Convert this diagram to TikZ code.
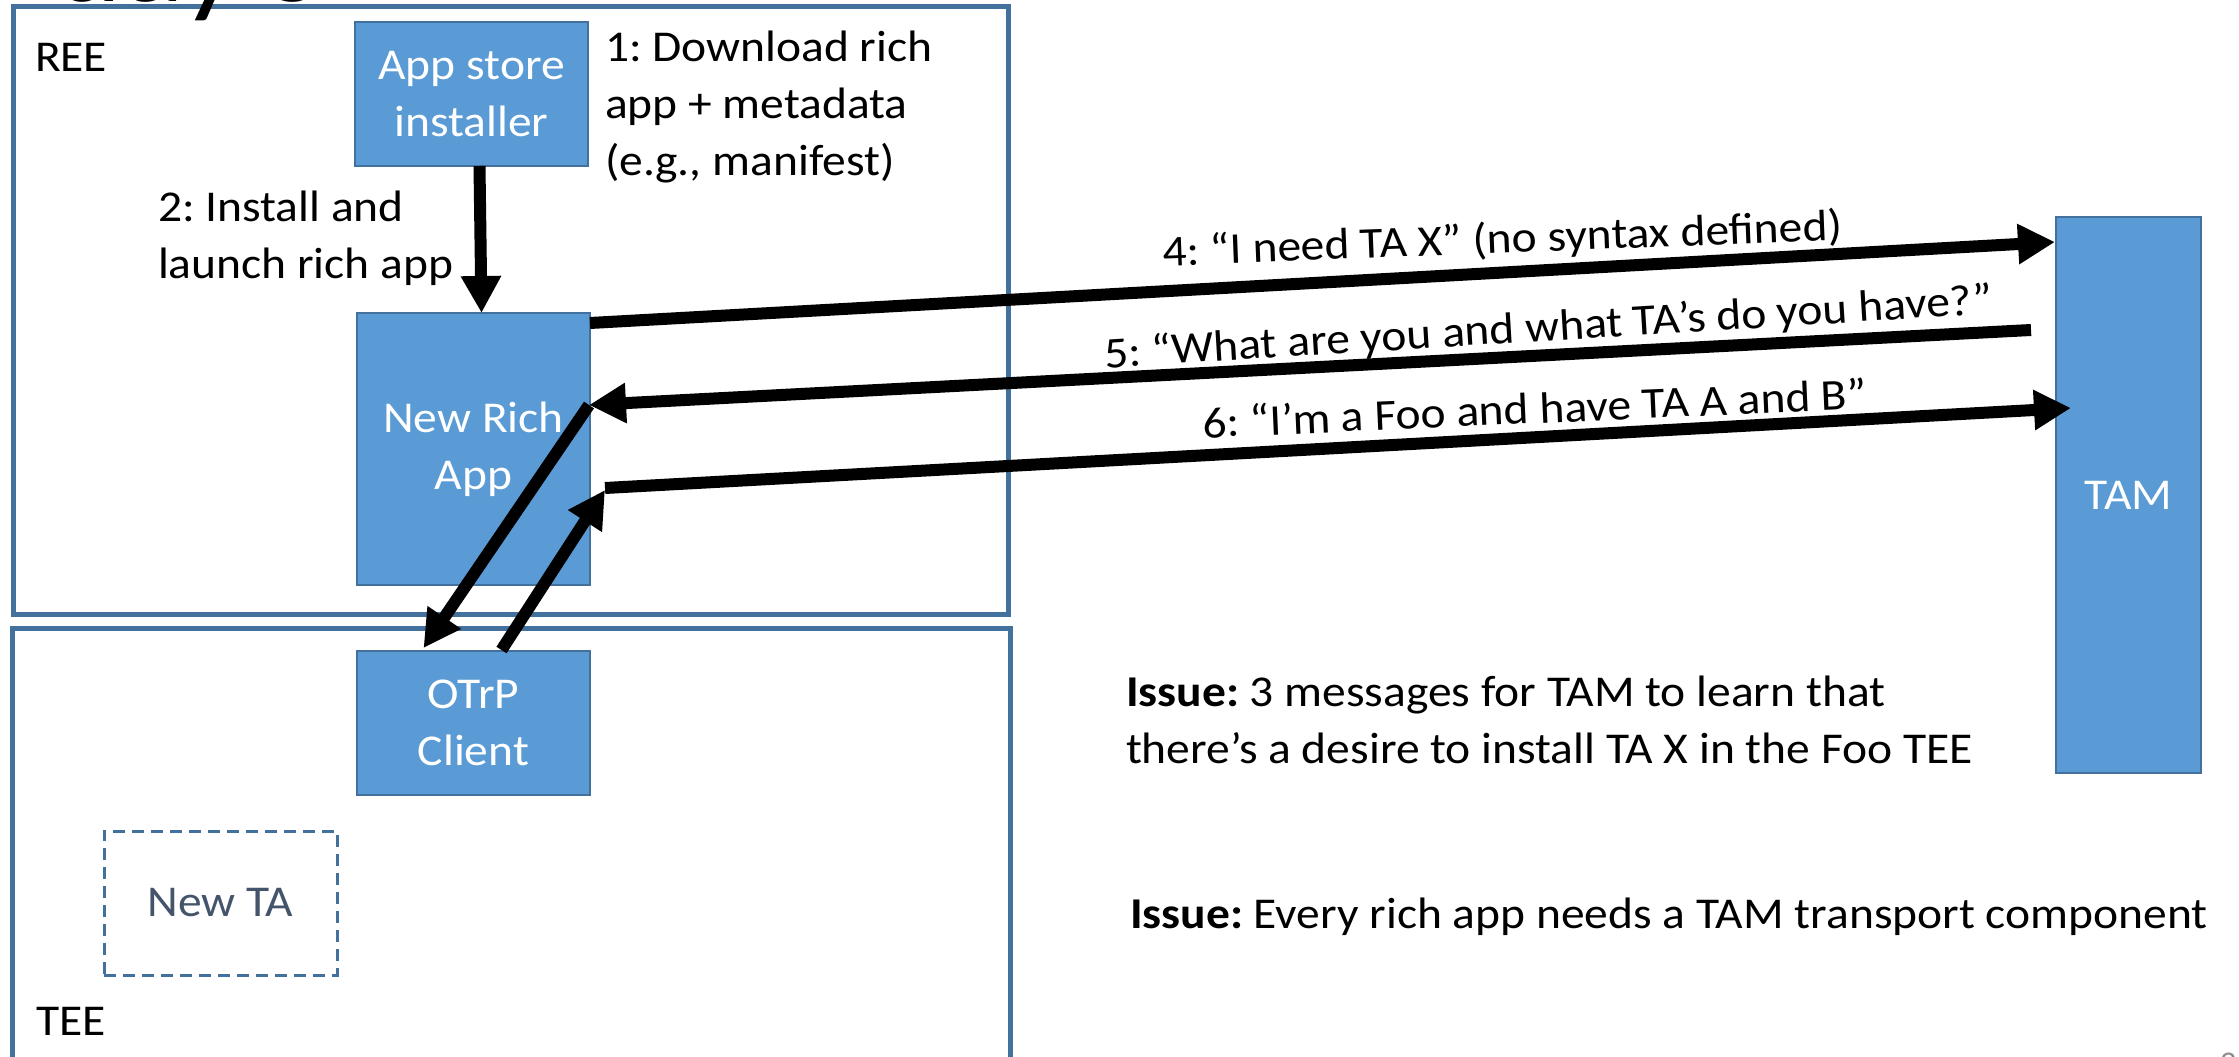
\documentclass[tikz,border=0pt]{standalone}
\usepackage{fontspec}
\setmainfont{Carlito}[FakeStretch=1.08]
\usetikzlibrary{arrows.meta,calc}
\definecolor{boxfill}{HTML}{5B9BD5}
\definecolor{boxline}{HTML}{41719C}
\definecolor{tatext}{HTML}{44546A}
\definecolor{pagenum}{HTML}{8C8C8C}
\frenchspacing
\begin{document}
\begin{tikzpicture}[x=1pt,y=-1pt,
  every node/.style={font=\fontsize{44}{57}\selectfont, inner sep=0pt, outer sep=0pt},
  zone/.style={draw=boxline, line width=5pt},
  comp/.style={draw=boxline, line width=2.5pt, fill=boxfill, text=white,
    align=center, minimum width=233pt},
  ghost/.style={draw=boxline, line width=3pt, dash pattern=on 12pt off 7pt,
    text=tatext, minimum width=233pt, minimum height=144pt},
  msg/.style={line width=12pt, -{Triangle[length=37pt,width=38pt]}},
  note/.style={align=left, anchor=base west},
]
\useasboundingbox (0,0) rectangle (2239,1057);

% execution environments
\node[zone, minimum width=995pt, minimum height=607pt] (ree) at (510.5,310.5) {};
\node[zone, minimum width=998pt, minimum height=480pt] (tee) at (511,868) {};
\node[anchor=base west] (reelbl) at (35,71) {REE};
\node[anchor=base west] (teelbl) at (36,1035) {TEE};

% slide title, sitting above the top edge
\begin{scope}
  \clip (72,-60) rectangle (420,40);
  \node[anchor=base west, font=\fontsize{120}{140}\selectfont] (title) at (-66,2) {Today’s};
\end{scope}

% components
\node[comp, minimum height=144pt] (inst) at (471.5,94) {App store\\installer};
\node[comp, minimum height=272pt] (rich) at (473.5,449) {New Rich\\App};
\node[comp, minimum height=144pt] (otrp) at (473.5,723) {OTrP\\Client};
\node[ghost] (newta) at (220.5,903) {New TA};
\node[comp, minimum width=145pt, minimum height=556pt] (tam) at (2128.5,495) {TAM};

% step descriptions (anchored at the baseline of the last line)
\node[note] (s1) at (605,175) {1: Download rich\\app + metadata\\(e.g., manifest)};
\node[note] (s2) at (158,278) {2: Install and\\launch rich app};

% install and launch
\draw[msg] ([xshift=8pt]inst.south) -- ([xshift=8pt]rich.north);

% exchanges with the TAM
\coordinate (richin) at ($(rich.north east)+(-1,92)$);
\coordinate (richout) at ($(rich.north east)+(15,177)$);
\draw[msg] ($(rich.north east)+(0,10)$) -- ($(tam.north west)+(-1,25)$);
\draw[msg] ($(tam.north west)+(-25,113)$) -- (richin);
\draw[msg] (richin) -- ($(otrp.north)+(-50,-3)$);
\draw[msg] ($(otrp.north)+(28,-1)$) -- (richout);
\draw[msg] ($(richout)+(0,-2)$) -- ($(tam.north west)+(15,191)$);

\node[anchor=base west, rotate=2.2] (m4) at (1163,266) {4: “I need TA X” (no syntax defined)};
\node[anchor=base west, rotate=3.5] (m5) at (1105,368) {5: “What are you and what TA’s do you have?”};
\node[anchor=base west, rotate=2.5] (m6) at (1203,438) {6: “I’m a Foo and have TA A and B”};

% open issues
\node[note] (issue1) at (1126,763) {\textbf{Issue:} 3 messages for TAM to learn that\\there’s a desire to install TA X in the Foo TEE};
\node[note] (issue2) at (1130,928) {\textbf{Issue:} Every rich app needs a TAM transport component};

% slide number
\node[anchor=base west, text=pagenum, font=\fontsize{30}{36}\selectfont] (pg) at (2220,1072) {2};
\end{tikzpicture}
\end{document}
